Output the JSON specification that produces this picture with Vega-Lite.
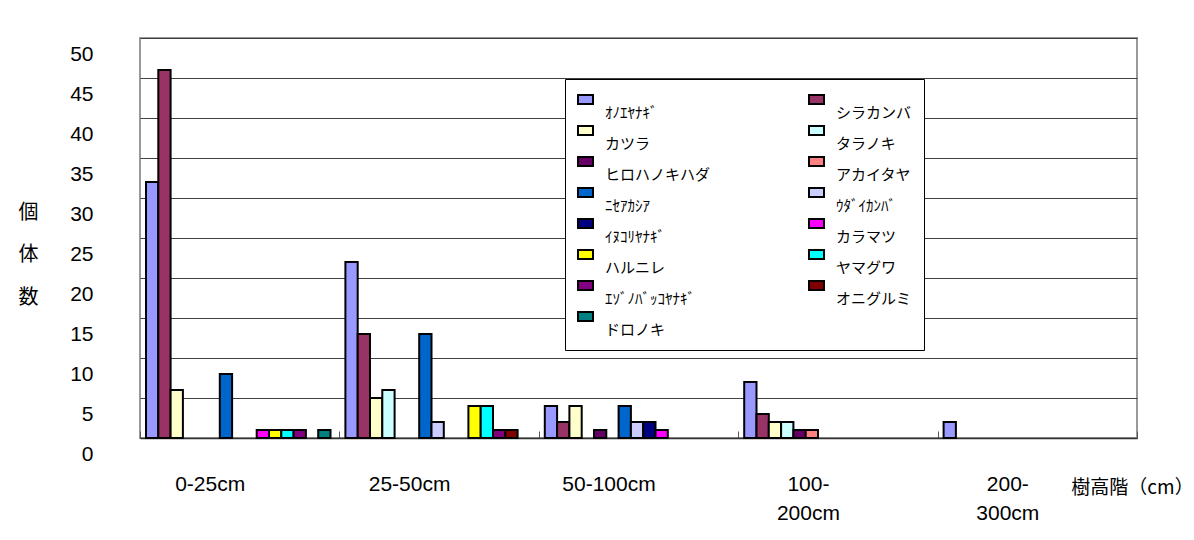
{
  "$schema": "https://vega.github.io/schema/vega-lite/v6.json",
  "width": 997,
  "height": 400,
  "autosize": {"type": "none"},
  "padding": {"left": 140, "top": 38, "right": 57, "bottom": 102},
  "background": "white",
  "config": {
    "view": {"stroke": "#999999", "strokeWidth": 2},
    "font": "Noto Sans CJK JP"
  },
  "data": {
    "values": [
      {"height": "0-25cm", "species": "ｵﾉｴﾔﾅｷﾞ", "count": 32},
      {"height": "0-25cm", "species": "シラカンバ", "count": 46},
      {"height": "0-25cm", "species": "カツラ", "count": 6},
      {"height": "0-25cm", "species": "ﾆｾｱｶｼｱ", "count": 8},
      {"height": "0-25cm", "species": "カラマツ", "count": 1},
      {"height": "0-25cm", "species": "ハルニレ", "count": 1},
      {"height": "0-25cm", "species": "ヤマグワ", "count": 1},
      {"height": "0-25cm", "species": "ｴｿﾞﾉﾊﾞｯｺﾔﾅｷﾞ", "count": 1},
      {"height": "0-25cm", "species": "ドロノキ", "count": 1},
      {"height": "25-50cm", "species": "ｵﾉｴﾔﾅｷﾞ", "count": 22},
      {"height": "25-50cm", "species": "シラカンバ", "count": 13},
      {"height": "25-50cm", "species": "カツラ", "count": 5},
      {"height": "25-50cm", "species": "タラノキ", "count": 6},
      {"height": "25-50cm", "species": "ﾆｾｱｶｼｱ", "count": 13},
      {"height": "25-50cm", "species": "ｳﾀﾞｲｶﾝﾊﾞ", "count": 2},
      {"height": "25-50cm", "species": "ハルニレ", "count": 4},
      {"height": "25-50cm", "species": "ヤマグワ", "count": 4},
      {"height": "25-50cm", "species": "ｴｿﾞﾉﾊﾞｯｺﾔﾅｷﾞ", "count": 1},
      {"height": "25-50cm", "species": "オニグルミ", "count": 1},
      {"height": "50-100cm", "species": "ｵﾉｴﾔﾅｷﾞ", "count": 4},
      {"height": "50-100cm", "species": "シラカンバ", "count": 2},
      {"height": "50-100cm", "species": "カツラ", "count": 4},
      {"height": "50-100cm", "species": "ヒロハノキハダ", "count": 1},
      {"height": "50-100cm", "species": "ﾆｾｱｶｼｱ", "count": 4},
      {"height": "50-100cm", "species": "ｳﾀﾞｲｶﾝﾊﾞ", "count": 2},
      {"height": "50-100cm", "species": "ｲﾇｺﾘﾔﾅｷﾞ", "count": 2},
      {"height": "50-100cm", "species": "カラマツ", "count": 1},
      {"height": "100-200cm", "species": "ｵﾉｴﾔﾅｷﾞ", "count": 7},
      {"height": "100-200cm", "species": "シラカンバ", "count": 3},
      {"height": "100-200cm", "species": "カツラ", "count": 2},
      {"height": "100-200cm", "species": "タラノキ", "count": 2},
      {"height": "100-200cm", "species": "ヒロハノキハダ", "count": 1},
      {"height": "100-200cm", "species": "アカイタヤ", "count": 1},
      {"height": "200-300cm", "species": "ｵﾉｴﾔﾅｷﾞ", "count": 2}
    ]
  },
  "mark": {"type": "bar", "stroke": "black", "strokeWidth": 2},
  "encoding": {
    "x": {
      "field": "height",
      "type": "nominal",
      "sort": ["0-25cm", "25-50cm", "50-100cm", "100-200cm", "200-300cm"],
      "scale": {"domain": ["0-25cm", "25-50cm", "50-100cm", "100-200cm", "200-300cm"], "paddingInner": 0, "paddingOuter": 0},
      "axis": {
        "title": "樹高階（cm）",
        "titleX": 992,
        "titleY": 49,
        "titleAlign": "center",
        "titleBaseline": "middle",
        "titleFontSize": 19,
        "titleFontWeight": "normal",
        "titleColor": "black",
        "labelAngle": 0,
        "labelFont": "Liberation Sans",
        "labelFontSize": 21,
        "labelColor": "black",
        "labelOffset": -30,
        "labelPadding": 53,
        "labelLineHeight": 29,
        "labelBaseline": "middle",
        "labelExpr": "datum.value === '100-200cm' ? ['100-', '200cm'] : datum.value === '200-300cm' ? ['200-', '300cm'] : datum.value",
        "tickBand": "extent",
        "tickSize": -7,
        "tickColor": "#555555",
        "domainColor": "#333333",
        "domainWidth": 1.5
      }
    },
    "xOffset": {
      "field": "species",
      "type": "nominal",
      "scale": {
        "domain": ["ｵﾉｴﾔﾅｷﾞ", "シラカンバ", "カツラ", "タラノキ", "ヒロハノキハダ", "アカイタヤ", "ﾆｾｱｶｼｱ", "ｳﾀﾞｲｶﾝﾊﾞ", "ｲﾇｺﾘﾔﾅｷﾞ", "カラマツ", "ハルニレ", "ヤマグワ", "ｴｿﾞﾉﾊﾞｯｺﾔﾅｷﾞ", "オニグルミ", "ドロノキ"],
        "range": [6, 190.5],
        "paddingInner": 0,
        "paddingOuter": 0
      }
    },
    "y": {
      "field": "count",
      "type": "quantitative",
      "scale": {"domain": [0, 50], "nice": false},
      "axis": {
        "values": [0, 5, 10, 15, 20, 25, 30, 35, 40, 45, 50],
        "title": ["個", "体", "数"],
        "titleAngle": 0,
        "titleX": -112,
        "titleY": 164,
        "titleAlign": "center",
        "titleBaseline": "top",
        "titleLineHeight": 42.5,
        "titleFontSize": 20,
        "titleFontWeight": "normal",
        "titleColor": "black",
        "labelFont": "Liberation Sans",
        "labelFontSize": 21,
        "labelColor": "black",
        "labelOffset": 16,
        "labelPadding": 47,
        "ticks": false,
        "domain": false,
        "grid": true,
        "gridColor": "#404040",
        "gridWidth": 1
      }
    },
    "color": {
      "field": "species",
      "type": "nominal",
      "scale": {
        "domain": ["ｵﾉｴﾔﾅｷﾞ", "カツラ", "ヒロハノキハダ", "ﾆｾｱｶｼｱ", "ｲﾇｺﾘﾔﾅｷﾞ", "ハルニレ", "ｴｿﾞﾉﾊﾞｯｺﾔﾅｷﾞ", "ドロノキ", "シラカンバ", "タラノキ", "アカイタヤ", "ｳﾀﾞｲｶﾝﾊﾞ", "カラマツ", "ヤマグワ", "オニグルミ"],
        "range": ["#9999FF", "#FFFFCC", "#660066", "#0066CC", "#000080", "#FFFF00", "#800080", "#008080", "#993366", "#CCFFFF", "#FF8080", "#CCCCFF", "#FF00FF", "#00FFFF", "#800000"]
      },
      "legend": {
        "title": null,
        "orient": "none",
        "legendX": 425,
        "legendY": 41,
        "columns": 2,
        "gridAlign": "all",
        "columnPadding": 94,
        "rowPadding": 1,
        "padding": 12,
        "fillColor": "white",
        "strokeColor": "black",
        "symbolType": "M-1,-0.6H1V0.6H-1Z",
        "symbolSize": 225,
        "symbolStrokeColor": "black",
        "symbolStrokeWidth": 2,
        "symbolOpacity": 1,
        "labelFontSize": 15,
        "labelColor": "black",
        "labelOffset": 11,
        "labelLimit": 400,
        "labelBaseline": "middle",
        "encode": {
          "labels": {"update": {"dy": {"value": 13.5}}}
        }
      }
    }
  }
}
